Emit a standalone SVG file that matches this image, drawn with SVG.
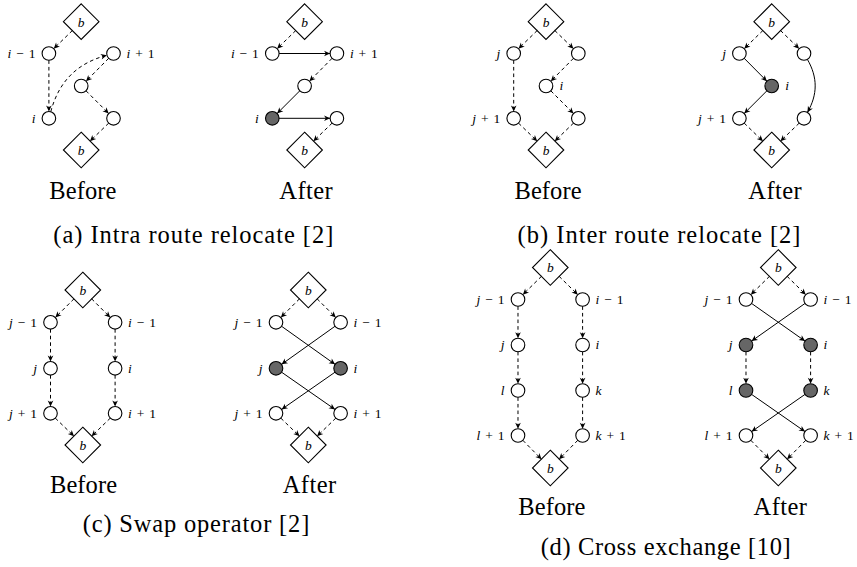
<svg xmlns="http://www.w3.org/2000/svg" width="857" height="567" viewBox="0 0 857 567">
<style>
.n{fill:#fff;stroke:#000;stroke-width:1.1}
.f{fill:#666;stroke:#000;stroke-width:1.1}
.e{fill:none;stroke:#000;stroke-width:1;marker-end:url(#ah)}
.d{stroke-dasharray:3.6 3}
.lb{font-family:"Liberation Serif","Times New Roman",serif;font-size:13.5px;word-spacing:1.5px;fill:#000}
.it{font-style:italic}
.cap{font-family:"Liberation Serif","Times New Roman",serif;font-size:24.5px;fill:#000}
</style>
<defs>
<marker id="ah" viewBox="-7 -3.5 8 7" refX="0" refY="0" markerWidth="8" markerHeight="7" markerUnits="userSpaceOnUse" orient="auto">
<path d="M0,0 L-6,-2.8 L-4.3,0 L-6,2.8 Z" fill="#000"/>
</marker>
</defs>

<!-- (a) Before -->
<g id="a-before" transform="translate(81.2,0)">
<g id="a1-bt"><path class="n" d="M0,3.9 L17.8,21.7 L0,39.5 L-17.8,21.7 Z"/><text class="lb it" x="0" y="26.5" text-anchor="middle">b</text></g>
<g id="a1-im1"><circle class="n" cx="-32.3" cy="53.5" r="6.8"/><text class="lb" x="-45.8" y="57.8" text-anchor="end"><tspan class="it">i</tspan> − 1</text></g>
<g id="a1-ip1"><circle class="n" cx="32.3" cy="53.5" r="6.8"/><text class="lb" x="45.3" y="57.8"><tspan class="it">i</tspan> + 1</text></g>
<g id="a1-m"><circle class="n" cx="0" cy="86" r="6.8"/></g>
<g id="a1-i"><circle class="n" cx="-32.3" cy="118.3" r="6.8"/><text class="lb it" x="-45.8" y="122.6" text-anchor="end">i</text></g>
<g id="a1-r"><circle class="n" cx="32.3" cy="118.3" r="6.8"/></g>
<g id="a1-bb"><path class="n" d="M0,132.2 L17.8,150 L0,167.8 L-17.8,150 Z"/><text class="lb it" x="0" y="154.8" text-anchor="middle">b</text></g>
<g id="a1-edges">
<path class="e d" d="M-8.75,30.45 L-27.49,48.69"/>
<path class="e d" d="M-32.3,60.3 L-32.3,111.5"/>
<path class="e d" d="M-30.44,111.73 C-22.36,81.59 -4.51,63.34 25.63,55.26"/>
<path class="e d" d="M27.49,58.31 L4.81,81.19"/>
<path class="e d" d="M4.81,90.81 L27.49,113.49"/>
<path class="e d" d="M27.49,123.11 L8.75,141.25"/>
</g>
</g>

<!-- (a) After -->
<g id="a-after" transform="translate(304.6,0)">
<g id="a2-bt"><path class="n" d="M0,3.9 L17.8,21.7 L0,39.5 L-17.8,21.7 Z"/><text class="lb it" x="0" y="26.5" text-anchor="middle">b</text></g>
<g id="a2-im1"><circle class="n" cx="-32.3" cy="53.5" r="6.8"/><text class="lb" x="-45.8" y="57.8" text-anchor="end"><tspan class="it">i</tspan> − 1</text></g>
<g id="a2-ip1"><circle class="n" cx="32.3" cy="53.5" r="6.8"/><text class="lb" x="45.3" y="57.8"><tspan class="it">i</tspan> + 1</text></g>
<g id="a2-m"><circle class="n" cx="0" cy="86" r="6.8"/></g>
<g id="a2-i"><circle class="f" cx="-32.3" cy="118.3" r="6.8"/><text class="lb it" x="-45.8" y="122.6" text-anchor="end">i</text></g>
<g id="a2-r"><circle class="n" cx="32.3" cy="118.3" r="6.8"/></g>
<g id="a2-bb"><path class="n" d="M0,132.2 L17.8,150 L0,167.8 L-17.8,150 Z"/><text class="lb it" x="0" y="154.8" text-anchor="middle">b</text></g>
<g id="a2-edges">
<path class="e d" d="M-8.75,30.45 L-27.49,48.69"/>
<path class="e" d="M-25.5,53.5 L25.5,53.5"/>
<path class="e d" d="M27.49,58.31 L4.81,81.19"/>
<path class="e" d="M-4.81,90.81 L-27.49,113.49"/>
<path class="e" d="M-25.5,118.3 L25.5,118.3"/>
<path class="e d" d="M27.49,123.11 L8.75,141.25"/>
</g>
</g>

<!-- (b) Before -->
<g id="b-before" transform="translate(546,0)">
<g id="b1-bt"><path class="n" d="M0,3.9 L17.8,21.7 L0,39.5 L-17.8,21.7 Z"/><text class="lb it" x="0" y="26.5" text-anchor="middle">b</text></g>
<g id="b1-j"><circle class="n" cx="-32.3" cy="53.5" r="6.8"/><text class="lb it" x="-45.8" y="57.8" text-anchor="end">j</text></g>
<g id="b1-r1"><circle class="n" cx="32.3" cy="53.5" r="6.8"/></g>
<g id="b1-i"><circle class="n" cx="0" cy="86" r="6.8"/><text class="lb it" x="13.5" y="90.3">i</text></g>
<g id="b1-jp1"><circle class="n" cx="-32.3" cy="118.3" r="6.8"/><text class="lb" x="-45.8" y="122.6" text-anchor="end"><tspan class="it">j</tspan> + 1</text></g>
<g id="b1-r3"><circle class="n" cx="32.3" cy="118.3" r="6.8"/></g>
<g id="b1-bb"><path class="n" d="M0,132.2 L17.8,150 L0,167.8 L-17.8,150 Z"/><text class="lb it" x="0" y="154.8" text-anchor="middle">b</text></g>
<g id="b1-edges">
<path class="e d" d="M-8.75,30.45 L-27.49,48.69"/>
<path class="e d" d="M8.75,30.45 L27.49,48.69"/>
<path class="e d" d="M-32.3,60.3 L-32.3,111.5"/>
<path class="e d" d="M27.49,58.31 L4.81,81.19"/>
<path class="e d" d="M4.81,90.81 L27.49,113.49"/>
<path class="e d" d="M-27.49,123.11 L-8.75,141.25"/>
<path class="e d" d="M27.49,123.11 L8.75,141.25"/>
</g>
</g>

<!-- (b) After -->
<g id="b-after" transform="translate(771.7,0)">
<g id="b2-bt"><path class="n" d="M0,3.9 L17.8,21.7 L0,39.5 L-17.8,21.7 Z"/><text class="lb it" x="0" y="26.5" text-anchor="middle">b</text></g>
<g id="b2-j"><circle class="n" cx="-32.3" cy="53.5" r="6.8"/><text class="lb it" x="-45.8" y="57.8" text-anchor="end">j</text></g>
<g id="b2-r1"><circle class="n" cx="32.3" cy="53.5" r="6.8"/></g>
<g id="b2-i"><circle class="f" cx="0" cy="86" r="6.8"/><text class="lb it" x="13.5" y="90.3">i</text></g>
<g id="b2-jp1"><circle class="n" cx="-32.3" cy="118.3" r="6.8"/><text class="lb" x="-45.8" y="122.6" text-anchor="end"><tspan class="it">j</tspan> + 1</text></g>
<g id="b2-r3"><circle class="n" cx="32.3" cy="118.3" r="6.8"/></g>
<g id="b2-bb"><path class="n" d="M0,132.2 L17.8,150 L0,167.8 L-17.8,150 Z"/><text class="lb it" x="0" y="154.8" text-anchor="middle">b</text></g>
<g id="b2-edges">
<path class="e d" d="M-8.75,30.45 L-27.49,48.69"/>
<path class="e d" d="M8.75,30.45 L27.49,48.69"/>
<path class="e" d="M-27.49,58.31 L-4.81,81.19"/>
<path class="e" d="M-4.81,90.81 L-27.49,113.49"/>
<path class="e" d="M35.7,59.39 C46.08,77.37 46.08,94.43 35.7,112.41"/>
<path class="e d" d="M-27.49,123.11 L-8.75,141.25"/>
<path class="e d" d="M27.49,123.11 L8.75,141.25"/>
</g>
</g>

<!-- (c) Before -->
<g id="c-before" transform="translate(82.8,0)">
<g id="c1-bt"><path class="n" d="M0,272.2 L17.8,290 L0,307.8 L-17.8,290 Z"/><text class="lb it" x="0" y="294.8" text-anchor="middle">b</text></g>
<g id="c1-jm1"><circle class="n" cx="-32.3" cy="322.3" r="6.8"/><text class="lb" x="-45.8" y="326.6" text-anchor="end"><tspan class="it">j</tspan> − 1</text></g>
<g id="c1-im1"><circle class="n" cx="32.3" cy="322.3" r="6.8"/><text class="lb" x="45.3" y="326.6"><tspan class="it">i</tspan> − 1</text></g>
<g id="c1-j"><circle class="n" cx="-32.3" cy="368.3" r="6.8"/><text class="lb it" x="-45.8" y="372.6" text-anchor="end">j</text></g>
<g id="c1-i"><circle class="n" cx="32.3" cy="368.3" r="6.8"/><text class="lb it" x="45.3" y="372.6">i</text></g>
<g id="c1-jp1"><circle class="n" cx="-32.3" cy="413.3" r="6.8"/><text class="lb" x="-45.8" y="417.6" text-anchor="end"><tspan class="it">j</tspan> + 1</text></g>
<g id="c1-ip1"><circle class="n" cx="32.3" cy="413.3" r="6.8"/><text class="lb" x="45.3" y="417.6"><tspan class="it">i</tspan> + 1</text></g>
<g id="c1-bb"><path class="n" d="M0,427.2 L17.8,445 L0,462.8 L-17.8,445 Z"/><text class="lb it" x="0" y="449.8" text-anchor="middle">b</text></g>
<g id="c1-edges">
<path class="e d" d="M-8.75,298.75 L-27.49,317.49"/>
<path class="e d" d="M8.75,298.75 L27.49,317.49"/>
<path class="e d" d="M-32.3,329.1 L-32.3,361.5"/>
<path class="e d" d="M32.3,329.1 L32.3,361.5"/>
<path class="e d" d="M-32.3,375.1 L-32.3,406.5"/>
<path class="e d" d="M32.3,375.1 L32.3,406.5"/>
<path class="e d" d="M-27.49,418.11 L-8.75,436.25"/>
<path class="e d" d="M27.49,418.11 L8.75,436.25"/>
</g>
</g>

<!-- (c) After -->
<g id="c-after" transform="translate(308.3,0)">
<g id="c2-bt"><path class="n" d="M0,272.2 L17.8,290 L0,307.8 L-17.8,290 Z"/><text class="lb it" x="0" y="294.8" text-anchor="middle">b</text></g>
<g id="c2-jm1"><circle class="n" cx="-32.3" cy="322.3" r="6.8"/><text class="lb" x="-45.8" y="326.6" text-anchor="end"><tspan class="it">j</tspan> − 1</text></g>
<g id="c2-im1"><circle class="n" cx="32.3" cy="322.3" r="6.8"/><text class="lb" x="45.3" y="326.6"><tspan class="it">i</tspan> − 1</text></g>
<g id="c2-j"><circle class="f" cx="-32.3" cy="368.3" r="6.8"/><text class="lb it" x="-45.8" y="372.6" text-anchor="end">j</text></g>
<g id="c2-i"><circle class="f" cx="32.3" cy="368.3" r="6.8"/><text class="lb it" x="45.3" y="372.6">i</text></g>
<g id="c2-jp1"><circle class="n" cx="-32.3" cy="413.3" r="6.8"/><text class="lb" x="-45.8" y="417.6" text-anchor="end"><tspan class="it">j</tspan> + 1</text></g>
<g id="c2-ip1"><circle class="n" cx="32.3" cy="413.3" r="6.8"/><text class="lb" x="45.3" y="417.6"><tspan class="it">i</tspan> + 1</text></g>
<g id="c2-bb"><path class="n" d="M0,427.2 L17.8,445 L0,462.8 L-17.8,445 Z"/><text class="lb it" x="0" y="449.8" text-anchor="middle">b</text></g>
<g id="c2-edges">
<path class="e d" d="M-8.75,298.75 L-27.49,317.49"/>
<path class="e d" d="M8.75,298.75 L27.49,317.49"/>
<path class="e" d="M-26.76,326.24 L26.76,364.36"/>
<path class="e" d="M26.76,326.24 L-26.76,364.36"/>
<path class="e" d="M-26.72,372.19 L26.72,409.41"/>
<path class="e" d="M26.72,372.19 L-26.72,409.41"/>
<path class="e d" d="M-27.49,418.11 L-8.75,436.25"/>
<path class="e d" d="M27.49,418.11 L8.75,436.25"/>
</g>
</g>

<!-- (d) Before -->
<g id="d-before" transform="translate(550.3,0)">
<g id="d1-bt"><path class="n" d="M0,249.7 L17.8,267.5 L0,285.3 L-17.8,267.5 Z"/><text class="lb it" x="0" y="272.3" text-anchor="middle">b</text></g>
<g id="d1-jm1"><circle class="n" cx="-32.3" cy="299.5" r="6.8"/><text class="lb" x="-45.8" y="303.8" text-anchor="end"><tspan class="it">j</tspan> − 1</text></g>
<g id="d1-im1"><circle class="n" cx="32.3" cy="299.5" r="6.8"/><text class="lb" x="45.3" y="303.8"><tspan class="it">i</tspan> − 1</text></g>
<g id="d1-j"><circle class="n" cx="-32.3" cy="345" r="6.8"/><text class="lb it" x="-45.8" y="349.3" text-anchor="end">j</text></g>
<g id="d1-i"><circle class="n" cx="32.3" cy="345" r="6.8"/><text class="lb it" x="45.3" y="349.3">i</text></g>
<g id="d1-l"><circle class="n" cx="-32.3" cy="390.5" r="6.8"/><text class="lb it" x="-45.8" y="394.8" text-anchor="end">l</text></g>
<g id="d1-k"><circle class="n" cx="32.3" cy="390.5" r="6.8"/><text class="lb it" x="45.3" y="394.8">k</text></g>
<g id="d1-lp1"><circle class="n" cx="-32.3" cy="435.5" r="6.8"/><text class="lb" x="-45.8" y="439.8" text-anchor="end"><tspan class="it">l</tspan> + 1</text></g>
<g id="d1-kp1"><circle class="n" cx="32.3" cy="435.5" r="6.8"/><text class="lb" x="45.3" y="439.8"><tspan class="it">k</tspan> + 1</text></g>
<g id="d1-bb"><path class="n" d="M0,450.2 L17.8,468 L0,485.8 L-17.8,468 Z"/><text class="lb it" x="0" y="472.8" text-anchor="middle">b</text></g>
<g id="d1-edges">
<path class="e d" d="M-8.75,276.25 L-27.49,294.69"/>
<path class="e d" d="M8.75,276.25 L27.49,294.69"/>
<path class="e d" d="M-32.3,306.3 L-32.3,338.2"/>
<path class="e d" d="M32.3,306.3 L32.3,338.2"/>
<path class="e d" d="M-32.3,351.8 L-32.3,383.7"/>
<path class="e d" d="M32.3,351.8 L32.3,383.7"/>
<path class="e d" d="M-32.3,397.3 L-32.3,428.7"/>
<path class="e d" d="M32.3,397.3 L32.3,428.7"/>
<path class="e d" d="M-27.49,440.31 L-8.75,459.25"/>
<path class="e d" d="M27.49,440.31 L8.75,459.25"/>
</g>
</g>

<!-- (d) After -->
<g id="d-after" transform="translate(778.3,0)">
<g id="d2-bt"><path class="n" d="M0,249.7 L17.8,267.5 L0,285.3 L-17.8,267.5 Z"/><text class="lb it" x="0" y="272.3" text-anchor="middle">b</text></g>
<g id="d2-jm1"><circle class="n" cx="-32.3" cy="299.5" r="6.8"/><text class="lb" x="-45.8" y="303.8" text-anchor="end"><tspan class="it">j</tspan> − 1</text></g>
<g id="d2-im1"><circle class="n" cx="32.3" cy="299.5" r="6.8"/><text class="lb" x="45.3" y="303.8"><tspan class="it">i</tspan> − 1</text></g>
<g id="d2-j"><circle class="f" cx="-32.3" cy="345" r="6.8"/><text class="lb it" x="-45.8" y="349.3" text-anchor="end">j</text></g>
<g id="d2-i"><circle class="f" cx="32.3" cy="345" r="6.8"/><text class="lb it" x="45.3" y="349.3">i</text></g>
<g id="d2-l"><circle class="f" cx="-32.3" cy="390.5" r="6.8"/><text class="lb it" x="-45.8" y="394.8" text-anchor="end">l</text></g>
<g id="d2-k"><circle class="f" cx="32.3" cy="390.5" r="6.8"/><text class="lb it" x="45.3" y="394.8">k</text></g>
<g id="d2-lp1"><circle class="n" cx="-32.3" cy="435.5" r="6.8"/><text class="lb" x="-45.8" y="439.8" text-anchor="end"><tspan class="it">l</tspan> + 1</text></g>
<g id="d2-kp1"><circle class="n" cx="32.3" cy="435.5" r="6.8"/><text class="lb" x="45.3" y="439.8"><tspan class="it">k</tspan> + 1</text></g>
<g id="d2-bb"><path class="n" d="M0,450.2 L17.8,468 L0,485.8 L-17.8,468 Z"/><text class="lb it" x="0" y="472.8" text-anchor="middle">b</text></g>
<g id="d2-edges">
<path class="e d" d="M-8.75,276.25 L-27.49,294.69"/>
<path class="e d" d="M8.75,276.25 L27.49,294.69"/>
<path class="e" d="M-26.74,303.42 L26.74,341.08"/>
<path class="e" d="M26.74,303.42 L-26.74,341.08"/>
<path class="e d" d="M-32.3,351.8 L-32.3,383.7"/>
<path class="e d" d="M32.3,351.8 L32.3,383.7"/>
<path class="e" d="M-26.72,394.39 L26.72,431.61"/>
<path class="e" d="M26.72,394.39 L-26.72,431.61"/>
<path class="e d" d="M-27.49,440.31 L-8.75,459.25"/>
<path class="e d" d="M27.49,440.31 L8.75,459.25"/>
</g>
</g>

<!-- captions -->
<g id="captions">
<text class="cap" x="49.3" y="198.7" textLength="67">Before</text>
<text class="cap" x="279.3" y="198.7" textLength="53.4">After</text>
<text class="cap" x="53.3" y="242.5" textLength="280">(a) Intra route relocate [2]</text>
<text class="cap" x="514.5" y="198.7" textLength="67">Before</text>
<text class="cap" x="748.3" y="198.7" textLength="53.4">After</text>
<text class="cap" x="517.5" y="242.5" textLength="283">(b) Inter route relocate [2]</text>
<text class="cap" x="50" y="493.3" textLength="67">Before</text>
<text class="cap" x="282.7" y="493.3" textLength="53.4">After</text>
<text class="cap" x="82.7" y="531.5" textLength="226.6">(c) Swap operator [2]</text>
<text class="cap" x="518.3" y="515" textLength="67">Before</text>
<text class="cap" x="753.6" y="515" textLength="53.4">After</text>
<text class="cap" x="540.7" y="554.7" textLength="250">(d) Cross exchange [10]</text>
</g>
</svg>
